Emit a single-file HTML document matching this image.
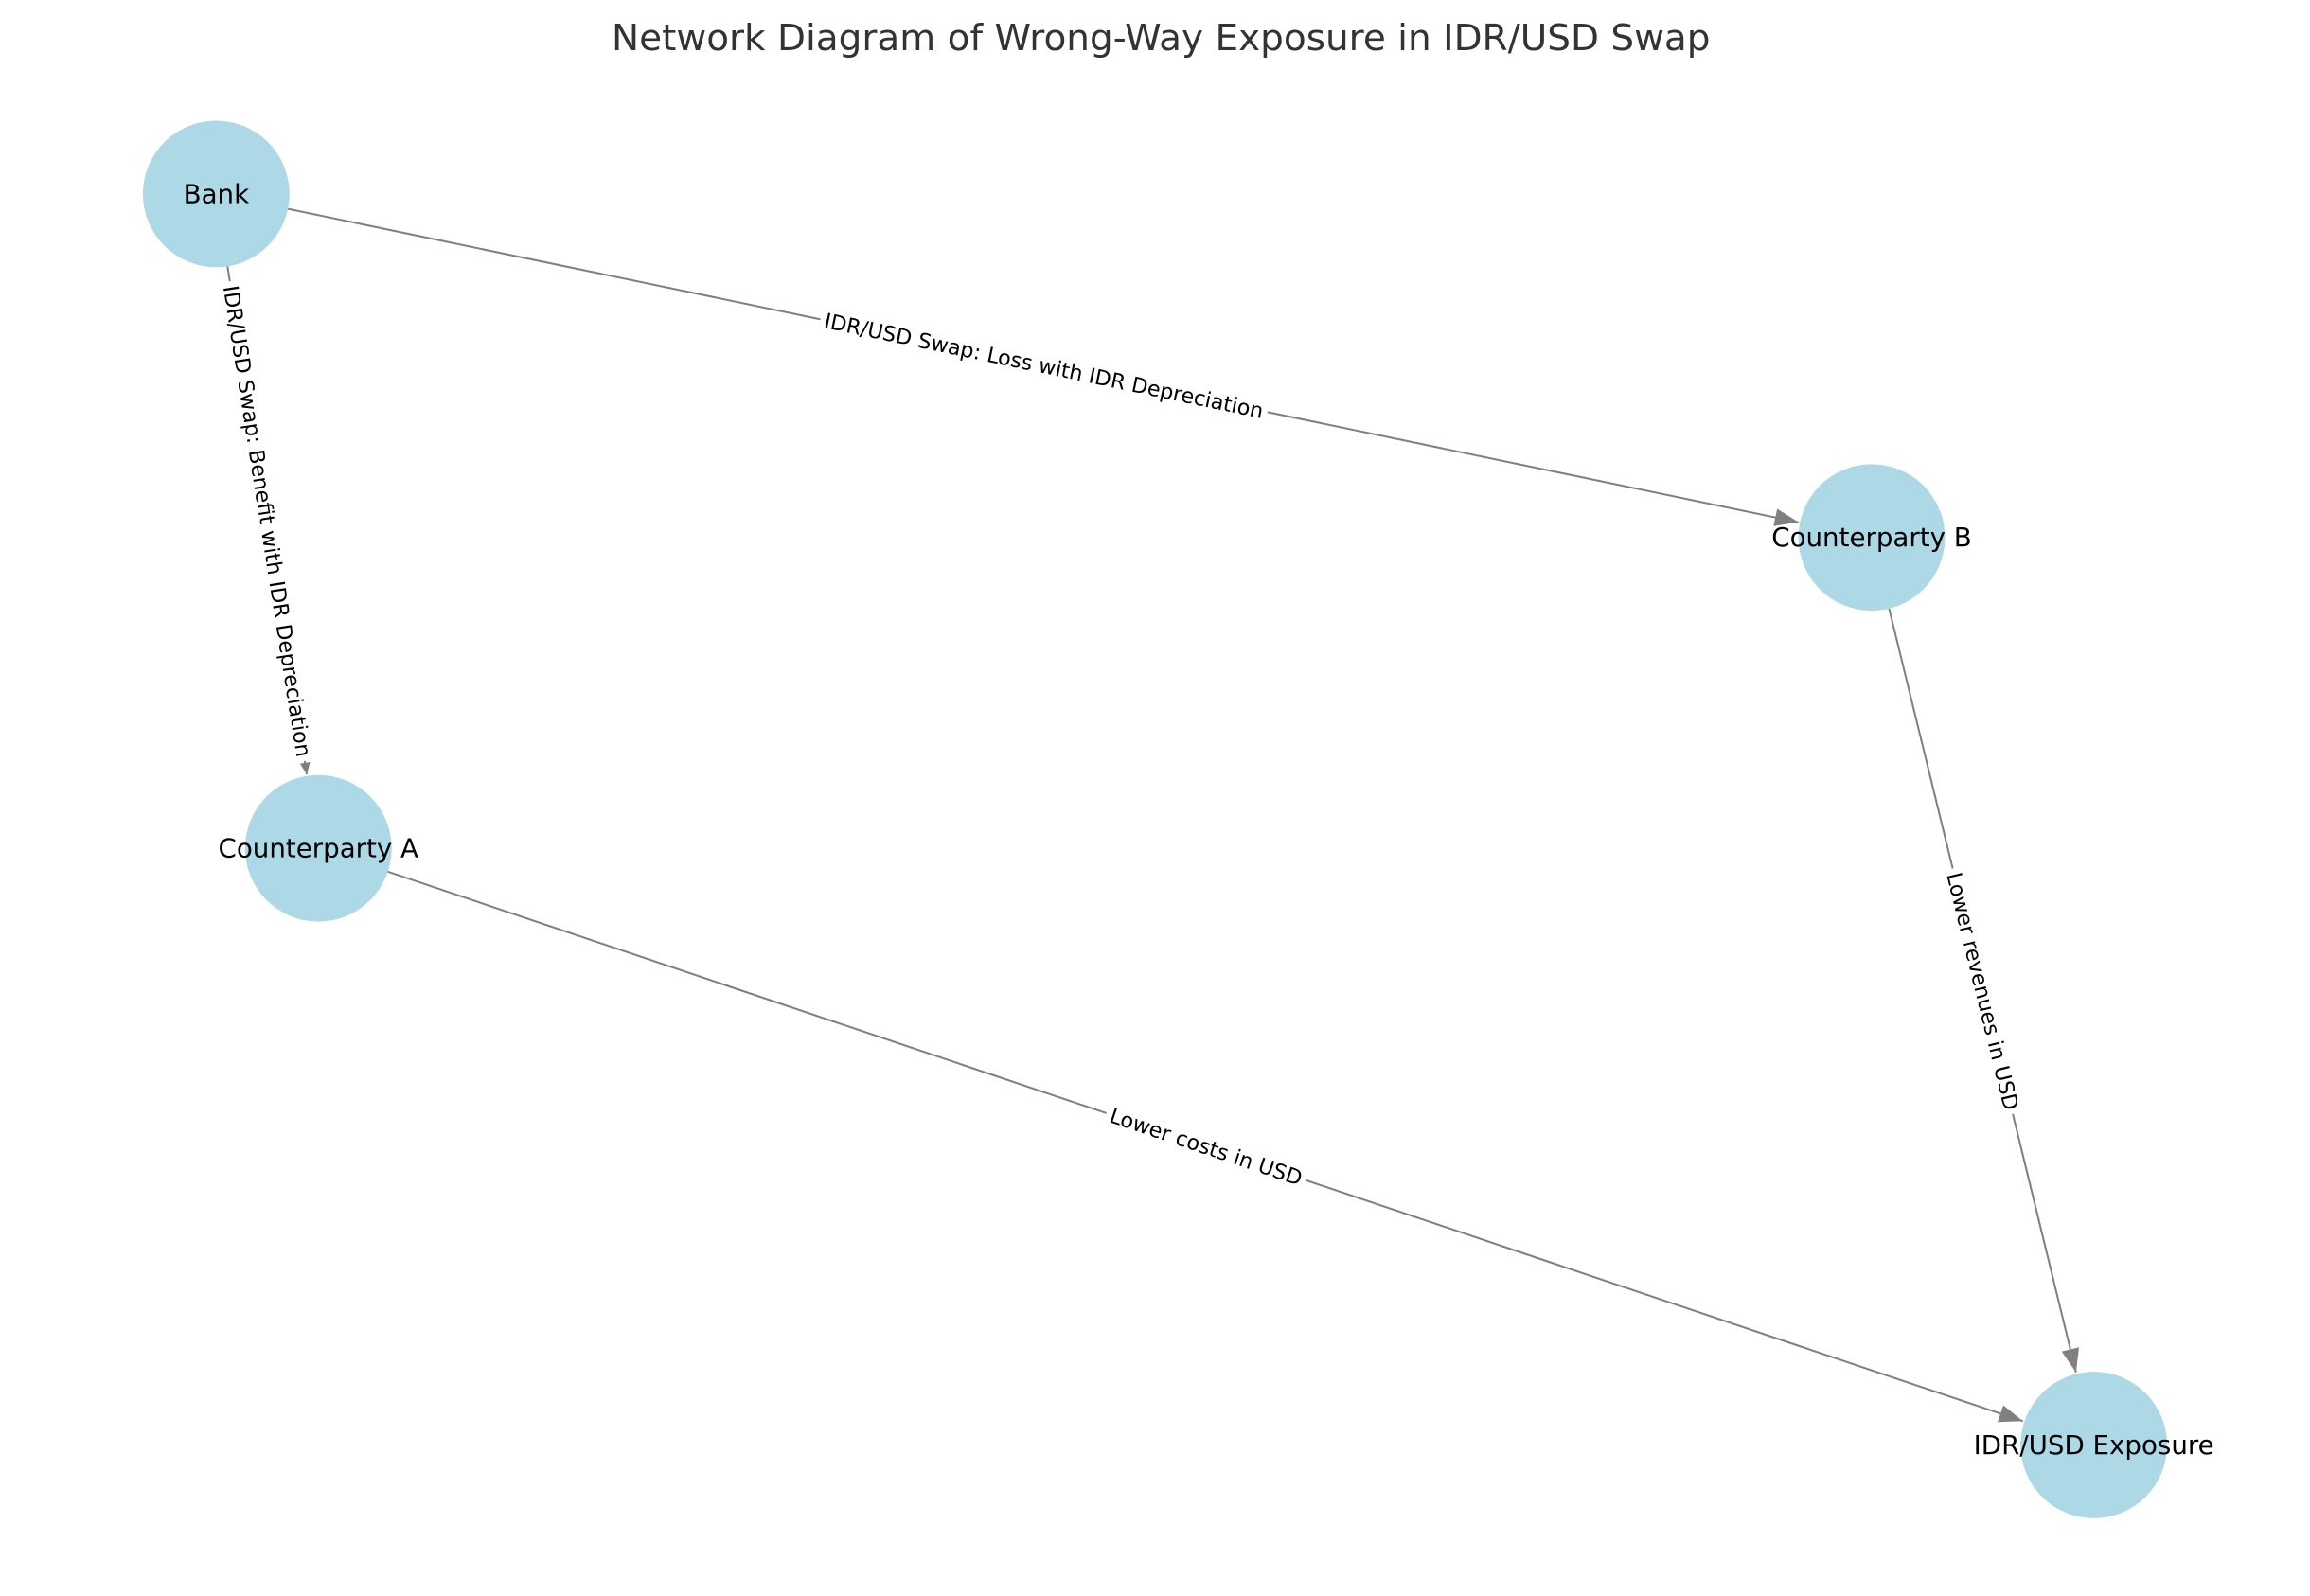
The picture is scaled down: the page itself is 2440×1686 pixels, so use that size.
<!DOCTYPE html>
<html><head><meta charset="utf-8"><style>
html,body{margin:0;padding:0;background:#fff;}
svg{display:block;}
</style></head><body>
<svg id="chart" width="2440" height="1686" viewBox="0 0 1560 1078" preserveAspectRatio="none" xmlns="http://www.w3.org/2000/svg">
<defs>
<marker id="arrow" markerWidth="16" markerHeight="12" refX="16" refY="6" orient="auto" markerUnits="userSpaceOnUse">
<path d="M0,0 L16,6 L0,12 Z" fill="#808080"/>
</marker>
<marker id="arrowSmall" markerWidth="8" markerHeight="8" refX="8" refY="4" orient="auto" markerUnits="userSpaceOnUse">
<path d="M0,0.5 L8,4 L0,7.5 Z" fill="#808080"/>
</marker>
</defs>
<text x="784" y="34" text-anchor="middle" font-family="'DejaVu Sans', 'Liberation Sans', sans-serif" font-size="24.5" textLength="742" lengthAdjust="spacingAndGlyphs" fill="#333">Network Diagram of Wrong-Way Exposure in IDR/USD Swap</text>
<g id="edges"></g>
<g id="nodes"></g>
<g id="labels"></g>
</svg>
<script>
const nodeNames = ["Bank", "Counterparty B", "Counterparty A", "IDR/USD Exposure"];
const nodeX = [146, 1264, 215, 1414];
const nodeY = [131, 363, 573, 976];
const edgeFrom = [0, 0, 2, 1];
const edgeTo = [1, 2, 3, 3];
const edgeLabels = ["IDR/USD Swap: Loss with IDR Depreciation", "IDR/USD Swap: Benefit with IDR Depreciation", "Lower costs in USD", "Lower revenues in USD"];
const R = 49.5;
const NS = "http://www.w3.org/2000/svg";
const gE = document.getElementById('edges'), gN = document.getElementById('nodes'), gL = document.getElementById('labels');
function slug(s){return s.toLowerCase().replace(/[^a-z0-9]+/g,'-').replace(/^-|-$/g,'');}
edgeFrom.forEach((f, i) => {
  const t = edgeTo[i];
  const x1 = nodeX[f], y1 = nodeY[f], x2 = nodeX[t], y2 = nodeY[t];
  const dx = x2 - x1, dy = y2 - y1, len = Math.hypot(dx, dy);
  const ux = dx / len, uy = dy / len;
  const line = document.createElementNS(NS, 'line');
  
  
  line.setAttribute('x1', x1 + ux * R); line.setAttribute('y1', y1 + uy * R);
  line.setAttribute('x2', x2 - ux * (R + 1)); line.setAttribute('y2', y2 - uy * (R + 1));
  line.setAttribute('stroke', '#808080'); line.setAttribute('stroke-width', '1.3');
  line.setAttribute('marker-end', i === 1 ? 'url(#arrowSmall)' : 'url(#arrow)');
  gE.appendChild(line);
  const mx = (x1 + x2) / 2, my = (y1 + y2) / 2;
  let ang = Math.atan2(dy, dx) * 180 / Math.PI;
  if (ang > 90) ang -= 180; if (ang < -90) ang += 180;
  const g = document.createElementNS(NS, 'g');
  
  
  g.setAttribute('transform', 'translate(' + mx + ',' + my + ') rotate(' + ang + ')');
  const txt = document.createElementNS(NS, 'text');
  txt.setAttribute('x', 0); txt.setAttribute('y', 5);
  txt.setAttribute('text-anchor', 'middle');
  txt.setAttribute('font-family', "'DejaVu Sans', 'Liberation Sans', sans-serif");
  txt.setAttribute('font-size', '14.2'); txt.setAttribute('fill', '#000');
  txt.textContent = edgeLabels[i];
  g.appendChild(txt);
  gL.appendChild(g);
  const bb = txt.getBBox();
  const rect = document.createElementNS(NS, 'rect');
  rect.setAttribute('x', bb.x - 3); rect.setAttribute('y', bb.y - 1);
  rect.setAttribute('width', bb.width + 6); rect.setAttribute('height', bb.height + 2);
  rect.setAttribute('fill', '#fff');
  g.insertBefore(rect, txt);
});
nodeNames.forEach((n, i) => {
  const c = document.createElementNS(NS, 'circle');
  
  
  c.setAttribute('cx', nodeX[i]); c.setAttribute('cy', nodeY[i]); c.setAttribute('r', R);
  c.setAttribute('fill', '#add8e6');
  gN.appendChild(c);
  const t = document.createElementNS(NS, 'text');
  
  
  t.setAttribute('x', nodeX[i]); t.setAttribute('y', nodeY[i] + 6);
  t.setAttribute('text-anchor', 'middle');
  t.setAttribute('font-family', "'DejaVu Sans', 'Liberation Sans', sans-serif");
  t.setAttribute('font-size', '17.7'); t.setAttribute('fill', '#000');
  t.textContent = n;
  gN.appendChild(t);
});
</script>
</body></html>
